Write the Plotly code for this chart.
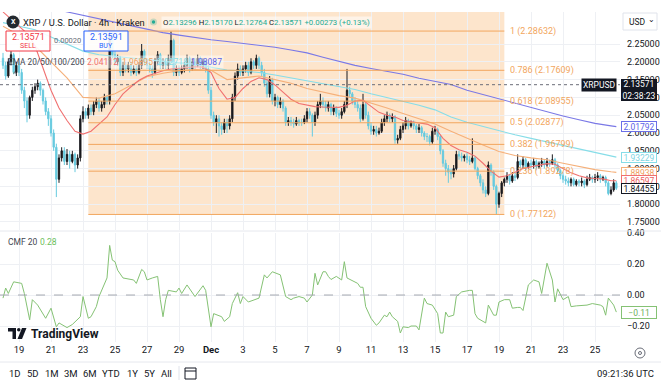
import pandas as pd
import plotly.graph_objects as go

# ---------------- DATA ----------------
start_time = "2025-11-18 00:00"   # first 4h candle
first_open = 2.21

closes = [
    2.19, 2.16, 2.20, 2.22, 2.17, 2.19,
    2.17, 2.12, 2.09, 2.05, 2.10, 2.12,
    2.13, 2.14, 2.12, 2.09, 2.06, 2.04,
    2.00, 1.96, 1.87, 1.93, 1.95, 1.92,
    1.94, 1.92, 1.94, 1.91, 1.93, 2.04,
    2.06, 2.05, 2.07, 2.06, 2.08, 2.09,
    2.07, 2.08, 2.10, 2.09, 2.27, 2.22,
    2.20, 2.21, 2.17, 2.19, 2.18, 2.19,
    2.17, 2.18, 2.17, 2.19, 2.23, 2.20,
    2.19, 2.18, 2.17, 2.20, 2.22, 2.19,
    2.20, 2.19, 2.21, 2.26, 2.17, 2.18,
    2.17, 2.18, 2.19, 2.21, 2.18, 2.20,
    2.19, 2.21, 2.19, 2.20, 2.18, 2.12,
    2.05, 2.03, 2.04, 2.02, 2.01, 2.03,
    2.02, 2.04, 2.10, 2.16, 2.18, 2.17,
    2.18, 2.19, 2.17, 2.20, 2.19, 2.21,
    2.19, 2.17, 2.14, 2.11, 2.15, 2.09,
    2.10, 2.08, 2.09, 2.07, 2.03, 2.035,
    2.03, 2.025, 2.035, 2.03, 2.03, 2.04,
    2.06, 2.05, 2.03, 2.05, 2.08, 2.09,
    2.08, 2.07, 2.08, 2.06, 2.07, 2.055,
    2.05, 2.06, 2.08, 2.12, 2.11, 2.09,
    2.08, 2.07, 2.04, 2.08, 2.05, 2.02,
    2.005, 2.01, 2.00, 2.005, 2.03, 2.04,
    2.05, 2.04, 2.045, 1.98, 1.985, 2.01,
    2.02, 2.035, 2.02, 2.03, 2.02, 2.01,
    2.015, 2.00, 1.99, 1.99, 1.975, 2.005,
    2.01, 1.99, 1.95, 1.915, 1.90, 1.89,
    1.885, 1.90, 1.94, 1.935, 1.93, 1.935,
    1.925, 1.92, 1.93, 1.90, 1.88, 1.86,
    1.84, 1.83, 1.91, 1.89, 1.85, 1.80,
    1.83, 1.86, 1.87, 1.88, 1.865, 1.88,
    1.875, 1.92, 1.91, 1.925, 1.905, 1.915,
    1.91, 1.92, 1.905, 1.915, 1.92, 1.91,
    1.92, 1.915, 1.925, 1.91, 1.895, 1.88,
    1.87, 1.865, 1.86, 1.87, 1.855, 1.865,
    1.86, 1.865, 1.855, 1.87, 1.875, 1.87,
    1.875, 1.88, 1.87, 1.875, 1.86, 1.83,
    1.84, 1.86, 1.84455,
]
highs = [
    2.225, 2.20, 2.21, 2.23, 2.225, 2.20,
    2.20, 2.18, 2.13, 2.10, 2.105, 2.13,
    2.14, 2.15, 2.145, 2.125, 2.10, 2.07,
    2.05, 2.01, 1.97, 1.94, 1.96, 1.96,
    1.955, 1.95, 1.95, 1.945, 1.94, 2.05,
    2.075, 2.07, 2.08, 2.08, 2.09, 2.10,
    2.10, 2.09, 2.11, 2.105, 2.285, 2.28,
    2.23, 2.22, 2.215, 2.20, 2.20, 2.20,
    2.20, 2.19, 2.19, 2.20, 2.25, 2.235,
    2.21, 2.20, 2.19, 2.21, 2.23, 2.225,
    2.21, 2.21, 2.22, 2.285, 2.265, 2.19,
    2.19, 2.19, 2.20, 2.22, 2.215, 2.21,
    2.21, 2.22, 2.215, 2.21, 2.205, 2.19,
    2.13, 2.06, 2.05, 2.05, 2.03, 2.04,
    2.04, 2.05, 2.11, 2.17, 2.195, 2.19,
    2.19, 2.20, 2.20, 2.21, 2.205, 2.22,
    2.215, 2.20, 2.18, 2.15, 2.16, 2.155,
    2.11, 2.105, 2.10, 2.095, 2.075, 2.045,
    2.045, 2.04, 2.045, 2.04, 2.04, 2.05,
    2.07, 2.07, 2.055, 2.06, 2.09, 2.11,
    2.10, 2.09, 2.09, 2.085, 2.08, 2.075,
    2.065, 2.07, 2.09, 2.18, 2.13, 2.115,
    2.10, 2.09, 2.08, 2.11, 2.085, 2.06,
    2.03, 2.02, 2.02, 2.015, 2.04, 2.05,
    2.06, 2.055, 2.055, 2.05, 1.995, 2.02,
    2.03, 2.045, 2.04, 2.035, 2.035, 2.025,
    2.025, 2.02, 2.005, 2.00, 1.995, 2.015,
    2.02, 2.015, 1.995, 1.955, 1.925, 1.91,
    1.90, 1.91, 1.95, 1.95, 1.945, 1.94,
    1.945, 1.935, 1.985, 1.935, 1.905, 1.885,
    1.87, 1.85, 1.92, 1.915, 1.895, 1.855,
    1.835, 1.865, 1.875, 1.89, 1.885, 1.89,
    1.89, 1.94, 1.925, 1.935, 1.93, 1.92,
    1.925, 1.93, 1.925, 1.92, 1.93, 1.925,
    1.93, 1.925, 1.94, 1.93, 1.915, 1.90,
    1.89, 1.88, 1.875, 1.875, 1.875, 1.87,
    1.87, 1.875, 1.87, 1.88, 1.885, 1.88,
    1.885, 1.89, 1.885, 1.88, 1.88, 1.865,
    1.85, 1.87, 1.865,
]
lows = [
    2.18, 2.15, 2.155, 2.19, 2.165, 2.16,
    2.16, 2.11, 2.07, 2.03, 2.04, 2.09,
    2.11, 2.12, 2.105, 2.08, 2.05, 2.02,
    1.99, 1.95, 1.82, 1.86, 1.92, 1.91,
    1.91, 1.90, 1.915, 1.89, 1.90, 1.92,
    2.03, 2.04, 2.04, 2.05, 2.05, 2.07,
    2.06, 2.06, 2.07, 2.08, 2.08, 2.21,
    2.19, 2.19, 2.16, 2.16, 2.17, 2.17,
    2.16, 2.165, 2.16, 2.165, 2.18, 2.19,
    2.18, 2.17, 2.155, 2.165, 2.19, 2.18,
    2.18, 2.18, 2.18, 2.20, 2.16, 2.16,
    2.16, 2.165, 2.17, 2.18, 2.17, 2.175,
    2.18, 2.185, 2.18, 2.18, 2.17, 2.11,
    2.04, 2.02, 2.00, 1.99, 1.995, 2.00,
    2.00, 2.01, 2.03, 2.09, 2.15, 2.16,
    2.16, 2.17, 2.16, 2.165, 2.18, 2.18,
    2.18, 2.16, 2.13, 2.10, 2.10, 2.08,
    2.075, 2.07, 2.07, 2.06, 2.02, 2.02,
    2.02, 2.015, 2.02, 2.02, 2.02, 2.025,
    2.03, 2.04, 1.99, 2.02, 2.04, 2.07,
    2.07, 2.06, 2.06, 2.05, 2.05, 2.045,
    2.04, 2.04, 2.055, 2.07, 2.10, 2.08,
    2.07, 2.06, 2.03, 2.035, 2.04, 2.01,
    1.995, 1.995, 1.99, 1.995, 2.00, 2.02,
    2.03, 2.03, 2.03, 1.97, 1.97, 1.98,
    2.00, 2.01, 2.01, 2.015, 2.01, 2.00,
    2.00, 1.99, 1.98, 1.975, 1.965, 1.97,
    1.995, 1.98, 1.94, 1.905, 1.88, 1.86,
    1.87, 1.875, 1.895, 1.925, 1.92, 1.92,
    1.915, 1.91, 1.915, 1.895, 1.87, 1.85,
    1.83, 1.82, 1.825, 1.88, 1.84, 1.77122,
    1.79, 1.82, 1.85, 1.86, 1.855, 1.86,
    1.865, 1.87, 1.90, 1.90, 1.895, 1.90,
    1.90, 1.90, 1.895, 1.90, 1.905, 1.90,
    1.905, 1.905, 1.91, 1.90, 1.885, 1.87,
    1.86, 1.855, 1.85, 1.85, 1.85, 1.85,
    1.85, 1.85, 1.845, 1.85, 1.865, 1.86,
    1.86, 1.865, 1.86, 1.865, 1.85, 1.825,
    1.825, 1.835, 1.84,
]

# EMA readings: EMA20 every 12h, others daily (from first candle), plus last values
ema20_12h = [2.34, 2.32, 2.30, 2.28, 2.245, 2.18, 2.12, 2.07, 2.035, 2.005,
             1.997, 2.005, 2.025, 2.045, 2.08, 2.11, 2.13, 2.148, 2.16, 2.168,
             2.175, 2.18, 2.182, 2.185, 2.186, 2.185, 2.17, 2.125, 2.095, 2.10,
             2.125, 2.145, 2.155, 2.15, 2.135, 2.115, 2.095, 2.083, 2.078, 2.074,
             2.073, 2.073, 2.072, 2.078, 2.09, 2.092, 2.075, 2.058, 2.05, 2.045,
             2.035, 2.032, 2.03, 2.025, 2.015, 1.985, 1.965, 1.953, 1.946, 1.935,
             1.915, 1.893, 1.876, 1.88, 1.89, 1.90, 1.905, 1.91, 1.914, 1.912,
             1.90, 1.888, 1.88, 1.874, 1.872, 1.871, 1.866]
ema50_daily = [2.30, 2.275, 2.245, 2.20, 2.155, 2.10, 2.098, 2.11, 2.135, 2.158,
               2.168, 2.175, 2.178, 2.176, 2.15, 2.155, 2.16, 2.15, 2.14, 2.125,
               2.115, 2.105, 2.098, 2.085, 2.07, 2.055, 2.04, 2.025, 2.005, 1.985,
               1.966, 1.948, 1.937, 1.93, 1.925, 1.915, 1.905, 1.897, 1.891]
ema100_daily = [2.31, 2.30, 2.29, 2.27, 2.25, 2.23, 2.22, 2.215, 2.21, 2.205,
                2.20, 2.197, 2.193, 2.185, 2.177, 2.174, 2.17, 2.163, 2.155, 2.147,
                2.14, 2.132, 2.122, 2.11, 2.10, 2.09, 2.078, 2.065, 2.045, 2.03,
                2.018, 2.005, 1.995, 1.985, 1.975, 1.965, 1.955, 1.945, 1.936]
ema200_daily = [2.39, 2.375, 2.36, 2.35, 2.34, 2.33, 2.32, 2.31, 2.30, 2.29,
                2.282, 2.275, 2.268, 2.262, 2.257, 2.252, 2.247, 2.241, 2.233, 2.225,
                2.213, 2.201, 2.19, 2.181, 2.174, 2.165, 2.154, 2.145, 2.136, 2.12,
                2.108, 2.096, 2.083, 2.07, 2.059, 2.048, 2.037, 2.027, 2.02]
ema_last = {"20": 1.86597, "50": 1.88938, "100": 1.93229, "200": 2.01792}
ema_colors = {"20": "#f07070", "50": "#f5b07a", "100": "#86dde8", "200": "#7a78e6"}
last_price = 1.84455
cross_price = 2.13571

# CMF 20 readings: candle index -> value
cmf_idx = [0, 1, 2, 4, 7, 8, 10, 11, 13, 16, 18, 20, 21, 24, 26, 29, 30, 32, 33, 35,
           36, 39, 40, 41, 42, 43, 45, 49, 50, 52, 53, 54, 56, 58, 59, 60, 61, 62, 65, 66,
           67, 69, 72, 75, 76, 78, 79, 82, 83, 85, 86, 88, 89, 90, 92, 94, 96, 98, 99, 101,
           104, 106, 108, 109, 111, 113, 114, 116, 117, 118, 120, 121, 122, 123, 125, 127, 128, 129, 133, 134,
           135, 136, 138, 140, 141, 143, 144, 145, 146, 148, 149, 150, 152, 153, 155, 156, 158, 159, 161, 163,
           164, 165, 166, 167, 169, 170, 172, 175, 176, 177, 178, 181, 182, 184, 185, 186, 188, 190, 191, 193,
           194, 195, 197, 199, 201, 202, 204, 206, 207, 208, 210, 212, 213, 215, 218, 219, 221, 224, 225, 226,
           227, 229, 230]
cmf_val = [-0.02, 0.045, 0.01, 0.085, 0.075, 0.01, -0.16, -0.03, -0.065, -0.15, -0.085, -0.205, -0.18, -0.21, -0.19, -0.14, -0.01, -0.15, -0.14, -0.075,
           -0.01, 0.11, 0.32, 0.225, 0.215, 0.16, 0.11, 0.097, 0.075, 0.165, 0.15, 0.097, 0.11, 0.12, -0.03, -0.14, -0.03, 0.03, 0.02, 0.045,
           0.01, 0.065, -0.01, 0.06, 0.03, -0.205, -0.12, -0.14, -0.17, -0.14, -0.055, 0.015, -0.055, -0.01, -0.045, -0.03, -0.02, 0.13, 0.11, 0.15,
           0.13, -0.01, -0.03, -0.02, -0.01, -0.02, -0.045, 0.0, 0.14, 0.065, 0.15, 0.15, 0.12, 0.10, 0.12, 0.097, 0.215, 0.11, 0.075, 0.05,
           0.05, -0.075, -0.15, -0.195, -0.18, -0.13, -0.14, -0.11, -0.14, -0.17, -0.245, -0.205, -0.21, -0.20, -0.20, -0.225, -0.02, -0.055, -0.065, -0.12,
           -0.245, -0.245, -0.11, -0.14, -0.13, -0.01, 0.02, 0.03, 0.03, -0.12, -0.15, -0.18, -0.065, -0.13, -0.13, -0.045, -0.03, -0.03, -0.085, -0.08,
           -0.08, -0.10, 0.065, 0.097, 0.085, 0.01, 0.205, 0.097, -0.045, 0.04, -0.03, -0.01, -0.075, -0.07, -0.065, -0.065, -0.055, -0.065, -0.075, -0.13,
           -0.02, -0.065, -0.11]
cmf_last_label = "−0.11"

# Fibonacci retracement
fib_start = "2025-11-23 08:00"
fib_end = "2025-12-19 08:00"
fib_levels = ["1", "0.786", "0.618", "0.5", "0.382", "0.236", "0"]
fib_prices = [2.28632, 2.17609, 2.08955, 2.02877, 1.96799, 1.89278, 1.77122]

# Axes
x_range = ["2025-11-17 19:30", "2025-12-26 13:30"]
tick_dates = ["2025-11-19", "2025-11-21", "2025-11-23", "2025-11-25", "2025-11-27", "2025-11-29",
              "2025-12-01", "2025-12-03", "2025-12-05", "2025-12-07", "2025-12-09", "2025-12-11",
              "2025-12-13", "2025-12-15", "2025-12-17", "2025-12-19", "2025-12-21", "2025-12-23",
              "2025-12-25"]
tick_labels = ["19", "21", "23", "25", "27", "29", "<b>Dec</b>", "3", "5", "7", "9", "11",
               "13", "15", "17", "19", "21", "23", "25"]
price_ticks = [1.75, 1.80, 1.85, 1.90, 1.95, 2.00, 2.05, 2.10, 2.15, 2.20, 2.25]
price_range = [1.7275, 2.3399]
cmf_ticks = [0.4, 0.2, 0.0, -0.2]
cmf_tick_labels = ["0.40", "0.20", "0.00", "−0.20"]
cmf_range = [-0.303, 0.400]

# ---------------- BUILD ----------------
W, H, PR = 661, 388, 620
FONT = "Roboto, 'Noto Sans', sans-serif"
times = pd.date_range(start_time, periods=len(closes), freq="4h")
opens = [first_open] + closes[:-1]
last_t = times[-1]

def px(x):
    return x / PR

def py(y):
    return 1 - y / H

fig = go.Figure()
fig.add_trace(go.Candlestick(
    x=times, open=opens, high=highs, low=lows, close=closes,
    increasing=dict(line=dict(color="#1b1b1f", width=1), fillcolor="#1b1b1f"),
    decreasing=dict(line=dict(color="#66cadf", width=1), fillcolor="#66cadf"),
    whiskerwidth=0, xaxis="x", yaxis="y", showlegend=False, hoverinfo="skip"))

def ema_trace(vals, freq, key):
    t = list(pd.date_range(start_time, periods=len(vals), freq=freq)) + [last_t]
    v = list(vals) + [ema_last[key]]
    return go.Scatter(x=t, y=v, mode="lines", line=dict(color=ema_colors[key], width=1.1),
                      xaxis="x", yaxis="y", showlegend=False, hoverinfo="skip")

fig.add_trace(ema_trace(ema200_daily, "1D", "200"))
fig.add_trace(ema_trace(ema100_daily, "1D", "100"))
fig.add_trace(ema_trace(ema50_daily, "1D", "50"))
fig.add_trace(ema_trace(ema20_12h, "12h", "20"))

cmf_times = [times[i] for i in cmf_idx]
fig.add_trace(go.Scatter(x=cmf_times, y=cmf_val, mode="lines",
                         line=dict(color="#85c274", width=1), xaxis="x2", yaxis="y2",
                         showlegend=False, hoverinfo="skip"))

shapes = []
shapes.append(dict(type="rect", xref="x", yref="y", x0=fib_start, x1=fib_end,
                   y0=fib_prices[-1], y1=price_range[1], fillcolor="rgba(248,180,110,0.35)",
                   line=dict(width=0), layer="below"))
for p in fib_prices:
    shapes.append(dict(type="line", xref="x", yref="y", x0=fib_start, x1=fib_end, y0=p, y1=p,
                       line=dict(color="#f2a65e", width=1)))
shapes.append(dict(type="line", xref="x domain", yref="y", x0=0, x1=1, y0=cross_price, y1=cross_price,
                   line=dict(color="#6a6d78", width=1, dash="dot")))
shapes.append(dict(type="line", xref="x2 domain", yref="y2", x0=0, x1=1, y0=0, y1=0,
                   line=dict(color="#a5a8b0", width=1, dash="dash")))
shapes.append(dict(type="line", xref="paper", yref="paper", x0=0, x1=px(W), y0=py(231), y1=py(231),
                   line=dict(color="#e6e8ee", width=1)))
shapes.append(dict(type="line", xref="paper", yref="paper", x0=0, x1=px(W), y0=py(362), y1=py(362),
                   line=dict(color="#e6e8ee", width=1)))
shapes.append(dict(type="line", xref="paper", yref="paper", x0=px(179), x1=px(179), y0=py(366), y1=py(380),
                   line=dict(color="#e0e3eb", width=1)))
shapes.append(dict(type="rect", xref="paper", yref="paper", x0=px(185), x1=px(196), y0=py(379), y1=py(368),
                   line=dict(color="#131722", width=1)))
shapes.append(dict(type="line", xref="paper", yref="paper", x0=px(185), x1=px(196), y0=py(371), y1=py(371),
                   line=dict(color="#131722", width=1)))
shapes.append(dict(type="circle", xref="paper", yref="paper", x0=px(635), x1=px(645), y0=py(358), y1=py(348),
                   line=dict(color="#6a6d78", width=1)))
shapes.append(dict(type="circle", xref="paper", yref="paper", x0=px(638.5), x1=px(641.5), y0=py(354.5), y1=py(351.5),
                   line=dict(color="#6a6d78", width=1)))
shapes.append(dict(type="rect", xref="paper", yref="paper", x0=px(623), x1=px(657), y0=py(30), y1=py(13),
                   line=dict(color="#e0e3eb", width=1), fillcolor="white"))
shapes.append(dict(type="rect", xref="paper", yref="paper", x0=px(6), x1=px(50), y0=py(51), y1=py(31),
                   line=dict(color="#f23645", width=1), fillcolor="rgba(255,255,255,0.9)"))
shapes.append(dict(type="rect", xref="paper", yref="paper", x0=px(84), x1=px(128), y0=py(51), y1=py(31),
                   line=dict(color="#2962ff", width=1), fillcolor="rgba(255,255,255,0.9)"))
shapes.append(dict(type="circle", xref="paper", yref="paper", x0=px(6.5), x1=px(19.5), y0=py(28.5), y1=py(15.5),
                   fillcolor="#23292f", line=dict(width=0)))
shapes.append(dict(type="circle", xref="paper", yref="paper", x0=px(150), x1=px(157), y0=py(25.5), y1=py(18.5),
                   fillcolor="rgba(34,171,148,0.25)", line=dict(width=0)))
shapes.append(dict(type="circle", xref="paper", yref="paper", x0=px(151.8), x1=px(155.2), y0=py(23.7), y1=py(20.3),
                   fillcolor="#22ab94", line=dict(width=0)))
shapes.append(dict(type="path", xref="paper", yref="paper",
                   path=f"M {px(8)} {py(328)} L {px(16)} {py(328)} L {px(16)} {py(339)} L {px(12.5)} {py(339)} "
                        f"L {px(12.5)} {py(331.5)} L {px(8)} {py(331.5)} Z",
                   fillcolor="#131722", line=dict(width=0)))
shapes.append(dict(type="circle", xref="paper", yref="paper", x0=px(17), x1=px(20.5), y0=py(331.5), y1=py(328),
                   fillcolor="#131722", line=dict(width=0)))
shapes.append(dict(type="path", xref="paper", yref="paper",
                   path=f"M {px(22)} {py(328)} L {px(26.5)} {py(328)} L {px(22)} {py(339)} L {px(17.5)} {py(339)} Z",
                   fillcolor="#131722", line=dict(width=0)))

ann = []

def A(text, x, y, size=9, color="#131722", xanchor="left", **kw):
    d = dict(text=text, xref="paper", yref="paper", x=px(x), y=py(y), xanchor=xanchor,
             yanchor="middle", showarrow=False, font=dict(size=size, color=color, family=FONT))
    d.update(kw)
    ann.append(d)

A("<b>X</b>", 13, 22, size=7, color="white", xanchor="center")
A("XRP / U.S. Dollar · 4h · Kraken", 21, 22, size=9.3)
g = "#22ab94"
ohlc = (f"O<span style='color:{g}'>2.13296</span> H<span style='color:{g}'>2.15170</span> "
        f"L<span style='color:{g}'>2.12764</span> C<span style='color:{g}'>2.13571</span> "
        f"<span style='color:{g}'>+0.00273 (+0.13%)</span>")
A(ohlc, 161, 22, size=7.8, bgcolor="rgba(255,255,255,0.55)", borderpad=1)
A("2.13571", 28, 36.5, size=9, color="#f23645", xanchor="center")
A("SELL", 28, 46, size=7, color="#f23645", xanchor="center")
A("0.00020", 67, 41, size=7.5, color="#6a6d78", xanchor="center")
A("2.13591", 106, 36.5, size=9, color="#2962ff", xanchor="center")
A("BUY", 106, 46, size=7, color="#2962ff", xanchor="center")
A("EMA 20/50/100/200", 6, 62, size=8.3, color="#434651")
A("2.04112", 85, 62, size=8.5, color=ema_colors["20"], bgcolor="rgba(255,255,255,0.45)")
A("1.96895", 120, 62, size=8.5, color="#f0a060", bgcolor="rgba(255,255,255,0.45)")
A("2.02718", 155, 62, size=8.5, color=ema_colors["100"], bgcolor="rgba(255,255,255,0.45)")
A("1.98087", 189, 62, size=8.5, color="#5b63e8", bgcolor="rgba(255,255,255,0.45)")
A("^", 15, 74, size=8, color="#6a6d78", xanchor="center")
A("CMF 20", 6, 242, size=8.5, color="#434651")
A("0.28", 38, 242, size=8.5, color="#6cc05a")
A("<b>TradingView</b>", 29, 334, size=12, color="#131722")
for lab, xc in zip(["1D", "5D", "1M", "3M", "6M", "YTD", "1Y", "5Y", "All"],
                   [15, 33, 52, 71, 90, 111, 132, 149, 166]):
    A(lab, xc, 373, size=9.5, color="#131722", xanchor="center")
A("09:21:36 UTC", 656, 373, size=9.5, color="#131722", xanchor="right")
A("USD", 627, 21.5, size=8.5, color="#131722")
A("⌄", 651, 19, size=8, color="#131722", xanchor="center")

for lev, p in zip(fib_levels, fib_prices):
    ann.append(dict(text=f"{lev} ({p:.5f})", xref="x", yref="y", x=fib_end, y=p, xanchor="left",
                    yanchor="middle", xshift=4, showarrow=False,
                    font=dict(size=9, color="#f2a65e", family=FONT)))

def R(text, y, fg, bg, border, yref="y", **kw):
    d = dict(text=text, xref="paper", yref=yref, x=1, y=y, xanchor="left", yanchor="middle",
             xshift=1, showarrow=False, font=dict(size=8.5, color=fg, family=FONT),
             bgcolor=bg, bordercolor=border, borderwidth=1, borderpad=0, width=34, height=9,
             align="center")
    d.update(kw)
    ann.append(d)

R(f"{ema_last['200']:.5f}", ema_last["200"], "#5b63e8", "white", "#6b6fe8")
R(f"{ema_last['100']:.5f}", ema_last["100"], "#7fd6e2", "white", "#86dde8")
R(f"{ema_last['50']:.5f}", ema_last["50"], "#f0a060", "white", "#f5b07a")
R(f"{ema_last['20']:.5f}", ema_last["20"], "#ee5f5f", "white", "#f07070")
R(f"{last_price:.5f}", last_price, "#131722", "white", "#131722")
R(f"{cross_price:.5f}<br>02:38:23", cross_price, "white", "#131722", "#131722",
  yanchor="top", yshift=6, height=20)
ann.append(dict(text="XRPUSD", xref="paper", yref="y", x=1, y=cross_price, xanchor="right",
                yanchor="middle", xshift=-3, showarrow=False,
                font=dict(size=8.5, color="white", family=FONT), bgcolor="#131722", borderpad=1))
R(cmf_last_label, cmf_val[-1], "#6cb05a", "white", "#85c274", yref="y2", height=11)

grid = "#eef0f4"
fig.update_layout(
    width=W, height=H, margin=dict(l=0, r=W - PR, t=0, b=0),
    paper_bgcolor="white", plot_bgcolor="white", showlegend=False,
    font=dict(family=FONT, size=9, color="#131722"),
    xaxis=dict(domain=[0, 1], anchor="y", range=x_range, type="date", tickmode="array",
               tickvals=tick_dates, ticktext=tick_labels, showticklabels=False,
               showgrid=True, gridcolor=grid, gridwidth=1, zeroline=False,
               rangeslider=dict(visible=False), showline=False, fixedrange=True),
    xaxis2=dict(domain=[0, 1], anchor="y2", range=x_range, type="date", tickmode="array",
                tickvals=tick_dates, ticktext=tick_labels, showticklabels=True,
                tickfont=dict(size=9.5, color="#131722"), ticks="", ticklen=0,
                showgrid=True, gridcolor=grid, gridwidth=1, zeroline=False, matches="x",
                showline=False, automargin=False),
    yaxis=dict(domain=[py(230), py(12)], anchor="x", side="right", range=price_range,
               tickmode="array", tickvals=price_ticks, ticktext=[f"{v:.5f}" for v in price_ticks],
               tickfont=dict(size=9, color="#131722"), showgrid=True, gridcolor=grid,
               zeroline=False, showline=False, automargin=False, ticks="", ticklabelstandoff=6),
    yaxis2=dict(domain=[py(342), py(233)], anchor="x2", side="right", range=cmf_range,
                tickmode="array", tickvals=cmf_ticks, ticktext=cmf_tick_labels,
                tickfont=dict(size=9, color="#131722"), showgrid=True, gridcolor=grid,
                zeroline=False, showline=False, automargin=False, ticks="", ticklabelstandoff=6),
    shapes=shapes, annotations=ann,
)

fig.write_html("out.html", config={"displayModeBar": False},
               post_script="document.body.style.margin='0';")
